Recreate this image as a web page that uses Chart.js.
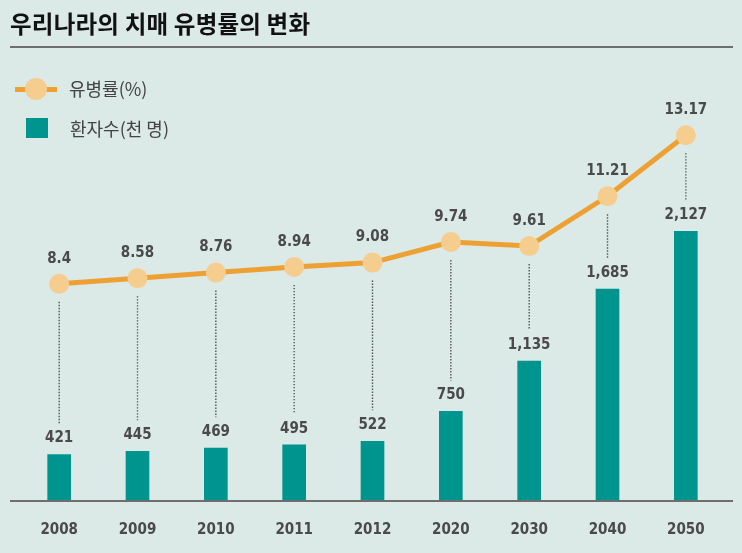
<!DOCTYPE html>
<html>
<head>
<meta charset="utf-8">
<script src="https://cdn.jsdelivr.net/npm/chart.js@4.4.1/dist/chart.umd.min.js"></script>
<style>
  html, body { margin: 0; padding: 0; background: #dbe9e7; }
  #wrap { position: relative; width: 742px; height: 553px; }
  #title {
    position: absolute; left: 10px; top: 8px; margin: 0;
    font: bold 23.5px 'Noto Sans CJK KR', sans-serif; line-height: 30px;
    letter-spacing: 0.2px; color: #111;
  }
  #rule { position: absolute; left: 10px; width: 723px; top: 46px; height: 2px; background: #6e6e6e; }
  .leg { position: absolute; font: 18px 'Noto Sans CJK KR', sans-serif; color: #444; line-height: 24px; }
  .legline { position: absolute; left: 15px; top: 86.5px; width: 42px; height: 5px; background: #eea132; }
  .legdot { position: absolute; left: 25px; top: 78px; width: 22px; height: 22px; border-radius: 50%; background: #f5cd8e; }
  .legbox { position: absolute; left: 26px; top: 118px; width: 22px; height: 20px; background: #00948f; }
  canvas { position: absolute; left: 0; top: 0; }
</style>
</head>
<body>
<div id="wrap">
  <canvas id="chart" width="742" height="553"></canvas>
  <h1 id="title">우리나라의 치매 유병률의 변화</h1>
  <div id="rule"></div>
  <div class="legline"></div>
  <div class="legdot"></div>
  <div class="leg" style="left:69px; top:76px;">유병률(%)</div>
  <div class="legbox"></div>
  <div class="leg" style="left:70px; top:116px;">환자수(천 명)</div>
</div>
<script>
const years = ['2008', '2009', '2010', '2011', '2012', '2020', '2030', '2040', '2050'];
const prevalence = [8.4, 8.58, 8.76, 8.94, 9.08, 9.74, 9.61, 11.21, 13.17];
const patients = [421, 445, 469, 495, 522, 750, 1135, 1685, 2127];

const numFont = 'bold 15px "DejaVu Sans Condensed", "DejaVu Sans", sans-serif';
const textGray = '#4a4a4a';

// dotted guides, value labels and the base line
const marks = {
  id: 'marks',
  beforeDatasetsDraw(chart) {
    const ctx = chart.ctx;
    const bars = chart.getDatasetMeta(0).data;
    const pts = chart.getDatasetMeta(1).data;
    ctx.save();
    ctx.strokeStyle = '#555';
    ctx.lineWidth = 1.4;
    ctx.setLineDash([1.4, 1.6]);
    pts.forEach((p, i) => {
      const b = bars[i];
      ctx.beginPath();
      ctx.moveTo(b.x, p.y + 18);
      ctx.lineTo(b.x, b.y - 31);
      ctx.stroke();
    });
    ctx.restore();
  },
  afterDatasetsDraw(chart) {
    const ctx = chart.ctx;
    const bars = chart.getDatasetMeta(0).data;
    const pts = chart.getDatasetMeta(1).data;
    ctx.save();
    ctx.font = numFont;
    ctx.fillStyle = textGray;
    ctx.textAlign = 'center';
    ctx.textBaseline = 'middle';
    bars.forEach((b, i) => ctx.fillText(patients[i].toLocaleString('en-US'), b.x, b.y - 16));
    pts.forEach((p, i) => ctx.fillText(String(prevalence[i]), bars[i].x, p.y - 25));
    const y = chart.chartArea.bottom + 1;
    ctx.strokeStyle = '#6e6e6e';
    ctx.lineWidth = 2;
    ctx.beginPath();
    ctx.moveTo(10, y);
    ctx.lineTo(733, y);
    ctx.stroke();
    ctx.restore();
  }
};

new Chart(document.getElementById('chart'), {
  type: 'bar',
  data: {
    labels: years,
    datasets: [
      {
        type: 'bar',
        label: '환자수(천 명)',
        data: patients,
        backgroundColor: '#00948f',
        barThickness: 23,
        yAxisID: 'yBar',
        order: 2,
      },
      {
        type: 'line',
        label: '유병률(%)',
        data: prevalence,
        borderColor: '#eea132',
        borderWidth: 5,
        pointRadius: 10,
        pointBackgroundColor: '#f5cd8e',
        pointBorderWidth: 0,
        tension: 0,
        yAxisID: 'yLine',
        order: 1,
      },
    ],
  },
  options: {
    responsive: false,
    animation: false,
    layout: { padding: { left: 20, right: 17, top: 60, bottom: -7 } },
    plugins: { legend: { display: false }, tooltip: { enabled: false } },
    scales: {
      x: {
        grid: { display: false, drawTicks: false },
        border: { display: false },
        ticks: { font: { family: '"DejaVu Sans Condensed", "DejaVu Sans", sans-serif', size: 15, weight: 'bold' }, color: textGray, padding: 21 },
      },
      yBar: { display: false, min: 73, max: 3437 },
      yLine: { display: false, min: 1.455, max: 15.585 },
    },
  },
  plugins: [marks],
});
</script>
</body>
</html>
